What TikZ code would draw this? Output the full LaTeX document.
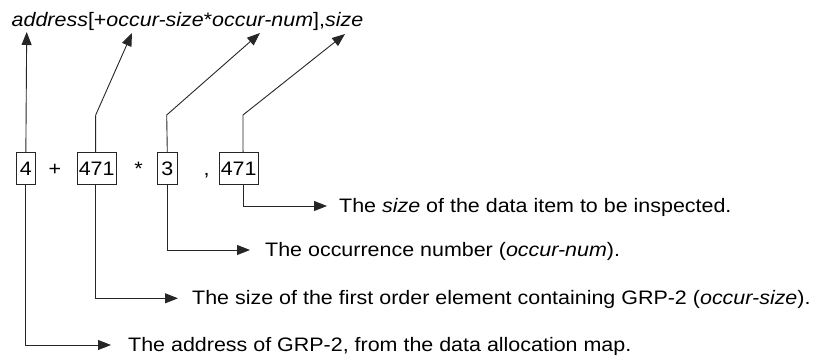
\documentclass[tikz,border=0pt]{standalone}
\usepackage{fontspec}
\setmainfont{Liberation Sans}[FakeStretch=1.1]
\usetikzlibrary{arrows.meta}
\begin{document}
\begin{tikzpicture}[x=1pt,y=-1pt,
  font=\fontsize{19.5}{23}\selectfont,
  conn/.style={line width=0.9pt, draw=black!85},
  arr/.style={conn, -{Triangle[length=13pt,width=10pt]}},
  valbox/.style={draw=black!85, line width=0.9pt, minimum height=31.6pt, inner sep=0pt},
  optext/.style={anchor=base, inner sep=0pt},
  label/.style={anchor=base west, inner sep=0pt}]
\useasboundingbox (0,0) rectangle (820,358);

% top format line
\node[label] (top) at (11.5,26.7) {\textit{address}[+\textit{occur-size}*\textit{occur-num}],\textit{size}};

% value boxes
\node[valbox, minimum width=19.7pt] (b1) at (25.85,168.5) {4};
\node[optext] (plus) at (55,175.5) {+};
\node[valbox, minimum width=38.7pt] (b2) at (96.65,168.5) {471};
\node[optext] (star) at (138.5,175.5) {*};
\node[valbox, minimum width=20pt] (b3) at (167.3,168.5) {3};
\node[optext] (comma) at (206.7,175.5) {,};
\node[valbox, minimum width=39.3pt] (b4) at (238.65,168.5) {471};

% arrow tips at the top
\coordinate (t1) at (26.7,32);
\coordinate (k2) at (95.7,115);
\coordinate (t2) at (132,33);
\coordinate (k3) at (166.7,115);
\coordinate (t3) at (260,33);
\coordinate (k4) at (243,115);
\coordinate (t4) at (345,34);

\draw[arr] (b1.north) -- (t1);
\draw[arr] ([xshift=-1pt]b2.north) -- (k2) -- (t2);
\draw[arr] (b3.north) -- (k3) -- (t3);
\draw[arr] ([xshift=4.4pt]b4.north) -- (k4) -- (t4);

% explanation labels
\node[label] (l4) at (339,212.3) {The \textit{size} of the data item to be inspected.};
\node[label] (l3) at (265,256.3) {The occurrence number (\textit{occur-num}).};
\node[label] (l2) at (192,304.5) {The size of the first order element containing GRP-2 (\textit{occur-size}).};
\node[label] (l1) at (128,351.3) {The address of GRP-2, from the data allocation map.};

\coordinate (e4) at (327,206);
\coordinate (e3) at (250,250);
\coordinate (e2) at (178,298.3);
\coordinate (e1) at (111,345);

\draw[arr] ([xshift=4.4pt]b4.south) |- (e4);
\draw[arr] (b3.south) |- (e3);
\draw[arr] ([xshift=-1pt]b2.south) |- (e2);
\draw[arr] (b1.south) |- (e1);
\end{tikzpicture}
\end{document}
